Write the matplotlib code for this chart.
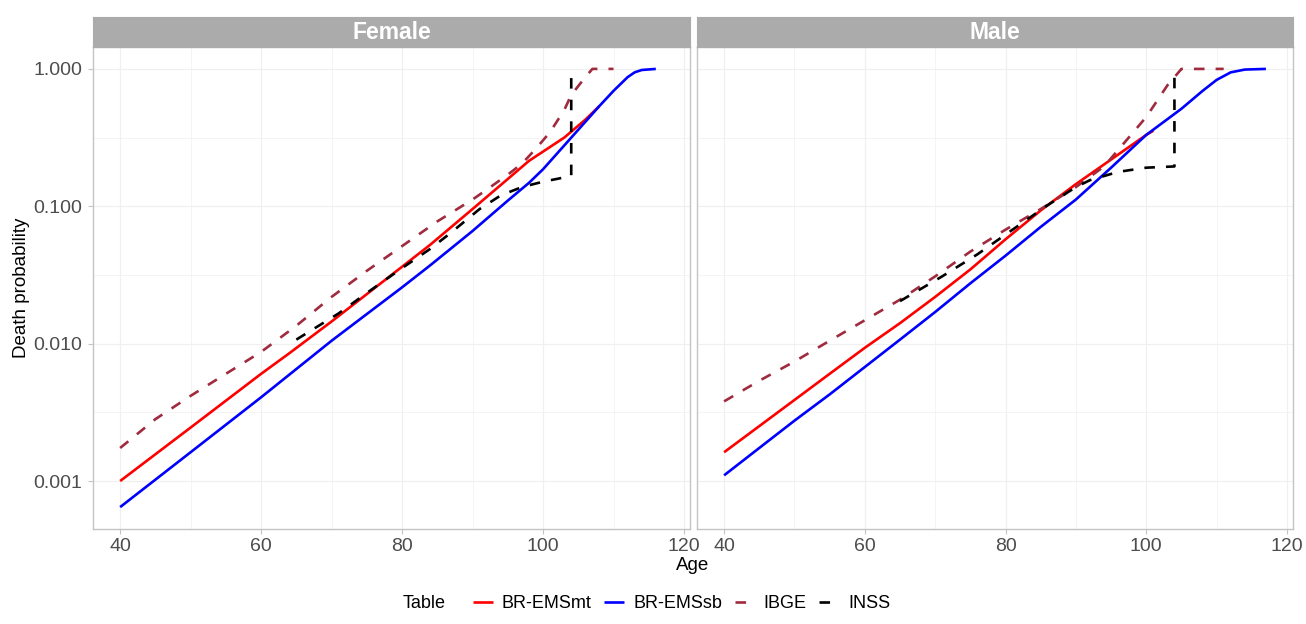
import numpy as np
import matplotlib.pyplot as plt
from matplotlib.lines import Line2D

plt.rcParams['font.family'] = ['Liberation Sans', 'DejaVu Sans']

# ---------------------------------------------------------------
# Death probabilities
# ---------------------------------------------------------------
# Female
fem_mt_age = [40, 50, 60, 64, 70, 80, 84, 90, 95, 98, 103, 106, 108]
fem_mt_q = [0.00100, 0.00245, 0.00603, 0.00851, 0.0145, 0.0363, 0.0525, 0.0955, 0.158, 0.214,
            0.316, 0.427, 0.537]

fem_sb_age = [40, 50, 60, 70, 80, 84, 90, 95, 98, 100, 104, 108, 110, 112, 113, 114, 116]
fem_sb_q = [0.000646, 0.00162, 0.00407, 0.0105, 0.0257, 0.0372, 0.0661, 0.110, 0.148, 0.186,
            0.316, 0.537, 0.692, 0.871, 0.944, 0.982, 1.0]

fem_ibge_age = [40, 45, 50, 55, 60, 65, 70, 75, 80, 85, 90, 92, 95, 97, 99, 101, 103, 104, 106, 107, 110]
fem_ibge_q = [0.00174, 0.00282, 0.00417, 0.00603, 0.00871, 0.0135, 0.0219, 0.0339, 0.0513, 0.0776,
              0.112, 0.132, 0.170, 0.204, 0.263, 0.347, 0.501, 0.646, 0.871, 1.0, 1.0]

fem_inss_age = [65, 71, 75, 80, 84, 87, 91, 94, 97, 100, 104, 104]
fem_inss_q = [0.0107, 0.0166, 0.0234, 0.0355, 0.0490, 0.0646, 0.0955, 0.120, 0.138, 0.151, 0.166, 0.955]

# Male
male_mt_age = [40, 45, 50, 55, 60, 65, 70, 75, 80, 85, 90, 95, 100, 101]
male_mt_q = [0.00162, 0.00251, 0.00389, 0.00603, 0.00933, 0.0141, 0.0219, 0.0347, 0.0575, 0.0933,
             0.145, 0.219, 0.331, 0.355]

male_sb_age = [40, 45, 50, 55, 60, 65, 70, 75, 80, 85, 90, 95, 100, 105, 108, 110, 112, 114, 117]
male_sb_q = [0.00110, 0.00174, 0.00275, 0.00427, 0.00676, 0.0107, 0.0170, 0.0275, 0.0437, 0.0708,
             0.112, 0.191, 0.331, 0.513, 0.692, 0.832, 0.944, 0.989, 1.0]

male_ibge_age = [40, 45, 50, 55, 60, 65, 70, 75, 80, 85, 90, 94, 97, 100, 103, 105, 111]
male_ibge_q = [0.00380, 0.00537, 0.00741, 0.0105, 0.0148, 0.0209, 0.0309, 0.0468, 0.0676, 0.0955,
               0.138, 0.195, 0.295, 0.447, 0.759, 1.0, 1.0]

male_inss_age = [65, 71, 76, 81, 86, 90, 92, 96, 100, 104, 104]
male_inss_q = [0.0204, 0.0309, 0.0447, 0.0676, 0.102, 0.138, 0.155, 0.178, 0.191, 0.195, 1.0]

tables = ['BR-EMSmt', 'BR-EMSsb', 'IBGE', 'INSS']
panels = {
    'Female': [(fem_mt_age, fem_mt_q), (fem_sb_age, fem_sb_q),
               (fem_ibge_age, fem_ibge_q), (fem_inss_age, fem_inss_q)],
    'Male': [(male_mt_age, male_mt_q), (male_sb_age, male_sb_q),
             (male_ibge_age, male_ibge_q), (male_inss_age, male_inss_q)],
}

colors = ['#FF0000', '#0000FF', '#A02B3E', '#000000']
dashed = [False, False, True, True]
LW = 1.9

# ---------------------------------------------------------------
# Layout (pixel based, ggplot-like facets)
# ---------------------------------------------------------------
W, H = 1306, 624
fig = plt.figure(figsize=(W / 100, H / 100), dpi=100)


def px_axes(x0, y0, x1, y1):
    return fig.add_axes([x0 / W, 1 - y1 / H, (x1 - x0) / W, (y1 - y0) / H])


# shared scales with 5% expansion like ggplot
all_age = [a for p in panels.values() for s in p for a in s[0]]
all_q = [q for p in panels.values() for s in p for q in s[1]]
x_lo, x_hi = min(all_age), max(all_age)
xpad = 0.05 * (x_hi - x_lo)
ly_lo, ly_hi = np.log10(min(all_q)), np.log10(max(all_q))
ypad = 0.05 * (ly_hi - ly_lo)

grid_c = '#F0F0F0'
border_c = '#C4C4C4'
tick_c = '#4D4D4D'

panel_px = {'Female': (93, 690), 'Male': (697, 1293)}
top, bottom = 47, 529

for i, (name, series) in enumerate(panels.items()):
    x0, x1 = panel_px[name]
    ax = px_axes(x0, top, x1, bottom)
    ax.set_yscale('log')
    ax.set_xlim(x_lo - xpad, x_hi + xpad)
    ax.set_ylim(10 ** (ly_lo - ypad), 10 ** (ly_hi + ypad))

    # grid
    for xv in [40, 60, 80, 100, 120]:
        ax.axvline(xv, color=grid_c, lw=0.9, zorder=0)
    for xv in [50, 70, 90, 110]:
        ax.axvline(xv, color=grid_c, lw=0.5, zorder=0)
    for e in [-3, -2, -1, 0]:
        ax.axhline(10.0 ** e, color=grid_c, lw=0.9, zorder=0)
    for e in [-2.5, -1.5, -0.5]:
        ax.axhline(10.0 ** e, color=grid_c, lw=0.5, zorder=0)

    for k, (age, q) in enumerate(series):
        ln, = ax.plot(age, q, color=colors[k], lw=LW, zorder=2 + k,
                      solid_capstyle='butt', dash_capstyle='butt')
        if dashed[k]:
            ln.set_dashes((4, 4.2))

    ax.set_xticks([40, 60, 80, 100, 120])
    ax.set_xticklabels(['40', '60', '80', '100', '120'])
    ax.minorticks_off()
    ax.tick_params(axis='x', colors=border_c, labelcolor=tick_c, labelsize=14,
                   length=3.5, width=0.8, pad=3)
    if i == 0:
        ax.set_yticks([0.001, 0.01, 0.1, 1.0])
        ax.set_yticklabels(['0.001', '0.010', '0.100', '1.000'])
        ax.tick_params(axis='y', colors=border_c, labelcolor=tick_c, labelsize=14,
                       length=3.5, width=0.8, pad=4)
    else:
        ax.set_yticks([])
    for sp in ax.spines.values():
        sp.set_color(border_c)
        sp.set_linewidth(1.0)

    # facet strip
    sax = px_axes(x0, 17, x1, top)
    sax.set_facecolor('#ABABAB')
    sax.set_xticks([])
    sax.set_yticks([])
    for sp in sax.spines.values():
        sp.set_color('#ABABAB')
    sax.text(0.5, 0.48, name, transform=sax.transAxes, ha='center', va='center',
             color='white', fontsize=16.5, fontweight='bold')

# axis titles
fig.text(693 / W, 1 - 566 / H, 'Age', ha='center', va='center', fontsize=13.5)
fig.text(22 / W, 1 - 288 / H, 'Death probability', ha='center', va='center',
         rotation=90, fontsize=13.5)

# legend at bottom
fig.text(403 / W, 1 - 604 / H, 'Table', ha='left', va='center', fontsize=13)
handles = []
for k in range(4):
    h = Line2D([0], [0], color=colors[k], lw=LW, solid_capstyle='butt', dash_capstyle='butt')
    if dashed[k]:
        h.set_dashes((4, 4.2))
    handles.append(h)
fig.legend(handles, tables, loc='center left', bbox_to_anchor=(473 / W, 1 - 604 / H),
           ncol=4, frameon=False, fontsize=13, handlelength=1.1, handletextpad=0.5,
           columnspacing=0.7, borderpad=0, borderaxespad=0)

fig.savefig('out.png', dpi=100, facecolor='white')
